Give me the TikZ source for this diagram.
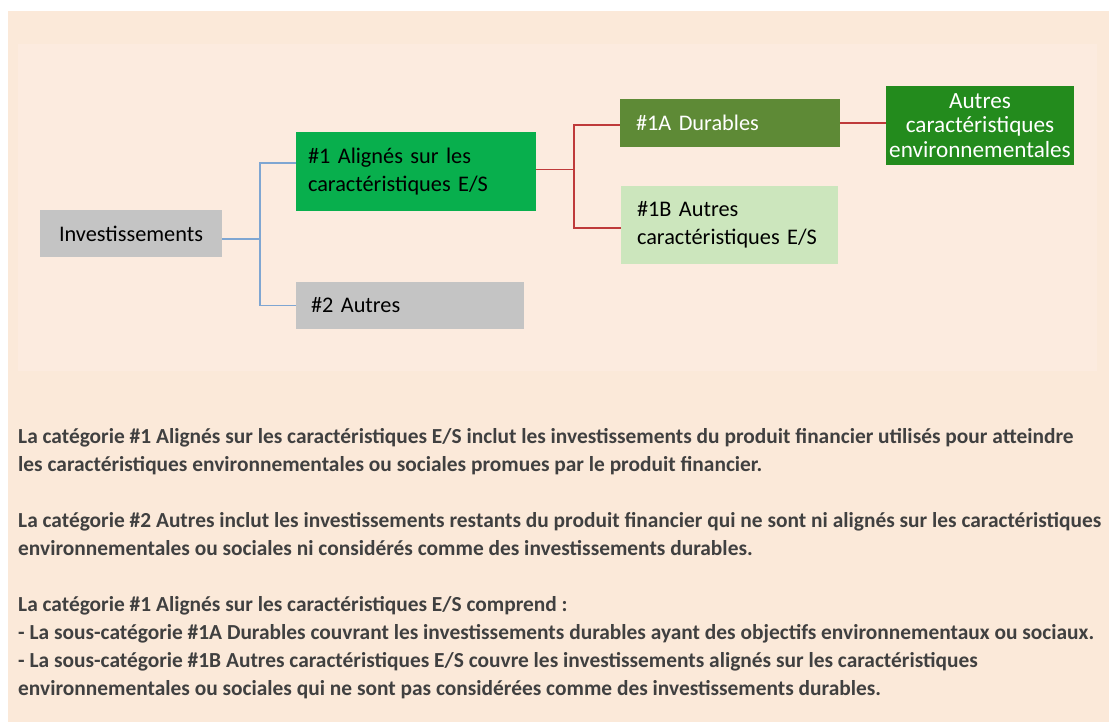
\documentclass[tikz,border=0pt]{standalone}
\usepackage{fontspec}
\setmainfont{Carlito}
\newfontfamily\boxfont{Carlito}[WordSpace=0.8]
\usetikzlibrary{calc}

\definecolor{pagebg}{HTML}{FBE9D9}
\definecolor{panelbg}{HTML}{FCEBDF}
\definecolor{boxgray}{HTML}{C4C4C4}
\definecolor{esgreen}{HTML}{08AF4D}
\definecolor{durgreen}{HTML}{5E8A36}
\definecolor{palegreen}{HTML}{CCE6BD}
\definecolor{envgreen}{HTML}{238B1D}
\definecolor{linkblue}{HTML}{7FA6D2}
\definecolor{linkred}{HTML}{BF3A3A}
\definecolor{bodytext}{HTML}{404040}

\begin{document}
\begin{tikzpicture}[x=1pt,y=-1pt,
  box/.style={rectangle, inner ysep=0pt, font=\boxfont\fontsize{22.3}{28}\selectfont, text=black},
  leftbox/.style={box, align=left},
  bline/.style={draw=linkblue, line width=1.6pt},
  rline/.style={draw=linkred, line width=1.6pt},
  para/.style={anchor=base west, inner sep=0pt, text=bodytext,
               font=\fontsize{21.4}{26}\selectfont\bfseries}]

% page and panel backgrounds
\useasboundingbox (0,0) rectangle (1109,722);
\fill[white] (0,0) rectangle (1109,722);
\fill[pagebg] (8,11) rectangle (1109,722);
\fill[panelbg] (18,44) rectangle (1097,371);

% category boxes
\node[box, fill=boxgray, minimum width=182pt, minimum height=47pt, inner xsep=0pt]
  (inv) at (131,233.5) {Investissements};
\node[leftbox, fill=esgreen, minimum height=79pt, text width=216pt, inner xsep=12pt]
  (n1) at (416,171.5) {\#1 Alignés sur les\\caractéristiques E/S};
\node[leftbox, fill=boxgray, minimum height=47pt, text width=198pt, inner xsep=15pt]
  (n2) at (410,305.5) {\#2 Autres};
\node[leftbox, fill=durgreen, text=white, minimum height=48pt, text width=188pt, inner xsep=16pt]
  (n1a) at (730,123) {\#1A Durables};
\node[leftbox, fill=palegreen, minimum height=78pt, text width=185pt, inner xsep=16pt]
  (n1b) at (729.5,225) {\#1B Autres\\caractéristiques E/S};
\node[box, fill=envgreen, text=white, align=center, minimum height=79pt, text width=188pt,
      inner xsep=0pt, font=\boxfont\fontsize{23.2}{24.5}\selectfont]
  (aut) at (980,125.5) {Autres\\caractéristiques\\environnementales};

% tree connectors
\draw[bline] ([yshift=-5.5pt]inv.east) -- ++(38,0) |- ([yshift=8.5pt]n1.west);
\draw[bline] ([yshift=-5.5pt]inv.east) ++(38,0) |- (n2.west);
\draw[rline] ([yshift=2pt]n1.east) -- ++(38,0) |- ([yshift=-2pt]n1a.west);
\draw[rline] ([yshift=2pt]n1.east) ++(38,0) |- ([yshift=-3pt]n1b.west);
\draw[rline] (n1a.east) -- (n1a.east -| aut.west);

% explanatory text
\node[para] (p1) at (18,443) {La catégorie \#1 Alignés sur les caractéristiques E/S inclut les investissements du produit financier utilisés pour atteindre};
\node[para] (p2) at (18,471) {les caractéristiques environnementales ou sociales promues par le produit financier.};
\node[para] (p3) at (18,527) {La catégorie \#2 Autres inclut les investissements restants du produit financier qui ne sont ni alignés sur les caractéristiques};
\node[para] (p4) at (18,555) {environnementales ou sociales ni considérés comme des investissements durables.};
\node[para] (p5) at (18,611) {La catégorie \#1 Alignés sur les caractéristiques E/S comprend :};
\node[para] (p6) at (18,639) {- La sous-catégorie \#1A Durables couvrant les investissements durables ayant des objectifs environnementaux ou sociaux.};
\node[para] (p7) at (18,667) {- La sous-catégorie \#1B Autres caractéristiques E/S couvre les investissements alignés sur les caractéristiques};
\node[para] (p8) at (18,695) {environnementales ou sociales qui ne sont pas considérées comme des investissements durables.};
\end{tikzpicture}
\end{document}
